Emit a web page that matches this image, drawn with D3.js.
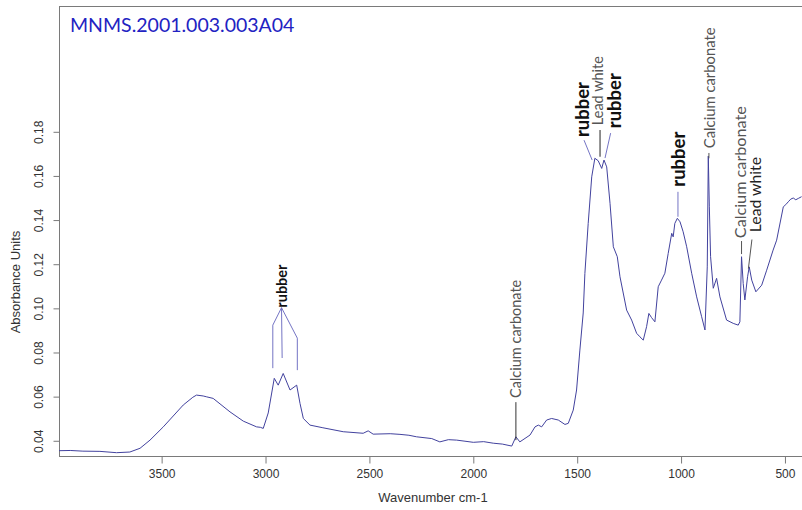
<!DOCTYPE html>
<html>
<head>
<meta charset="utf-8">
<script src="https://cdn.jsdelivr.net/npm/d3@7"></script>
<style>
  body { margin: 0; background: #fff; }
  svg { display: block; }
</style>
</head>
<body>
<div id="chart"></div>
<script>
// spectrum: wavenumber (cm-1) and absorbance
const wavenumber = [3994, 3940, 3879, 3797, 3717, 3653, 3604, 3556, 3492, 3396, 3350, 3332, 3300, 3283, 3252, 3171,
  3107, 3043, 3025, 3011, 2987, 2958, 2939, 2915, 2882, 2850, 2834, 2818, 2786, 2724, 2626, 2530, 2506, 2482, 2400,
  2353, 2310, 2273, 2200, 2161, 2120, 2080, 2040, 2000, 1950, 1904, 1860, 1815, 1795, 1776, 1727, 1703, 1687, 1671,
  1647, 1623, 1591, 1559, 1543, 1519, 1503, 1487, 1471, 1463, 1447, 1430, 1415, 1399, 1382, 1371, 1358, 1342, 1326,
  1307, 1294, 1262, 1238, 1214, 1198, 1182, 1166, 1155, 1142, 1126, 1110, 1094, 1078, 1062, 1045, 1038, 1030, 1018,
  1005, 990, 973, 949, 925, 901, 885, 874, 869, 864, 858, 845, 829, 813, 781, 749, 725, 717, 709, 701, 693, 680, 672,
  660, 640, 612, 588, 557, 540, 508, 496, 484, 472, 460, 448, 436, 420];
const absorbance = [0.0355, 0.0356, 0.0353, 0.0352, 0.0346, 0.0349, 0.0366, 0.0403, 0.0463, 0.0562, 0.0597, 0.0607,
  0.0603, 0.0599, 0.0592, 0.0531, 0.0489, 0.0463, 0.0461, 0.0456, 0.0526, 0.0683, 0.0652, 0.0705, 0.0630, 0.0652,
  0.0569, 0.0501, 0.0471, 0.0459, 0.0441, 0.0434, 0.0445, 0.0430, 0.0432, 0.0429, 0.0425, 0.0418, 0.0410, 0.0395,
  0.0405, 0.0403, 0.0398, 0.0393, 0.0396, 0.0389, 0.0385, 0.0376, 0.0418, 0.0395, 0.0426, 0.0463, 0.0471, 0.0463,
  0.0494, 0.0501, 0.0494, 0.0474, 0.0479, 0.0539, 0.0630, 0.0811, 0.0979, 0.1158, 0.1385, 0.1596, 0.1680, 0.1669,
  0.1634, 0.1672, 0.1641, 0.1476, 0.1279, 0.1234, 0.1143, 0.0992, 0.0947, 0.0887, 0.0871, 0.0856, 0.0917, 0.0977,
  0.0958, 0.0939, 0.1098, 0.1128, 0.1159, 0.1249, 0.1340, 0.1324, 0.1385, 0.1408, 0.1392, 0.1347, 0.1279, 0.1159,
  0.1052, 0.0962, 0.0902, 0.1188, 0.1690, 0.1460, 0.1234, 0.1091, 0.1136, 0.1052, 0.0947, 0.0932, 0.0924, 0.0939,
  0.1234, 0.1113, 0.1038, 0.1143, 0.1188, 0.1128, 0.1075, 0.1105, 0.1173, 0.1264, 0.1309, 0.1460, 0.1470, 0.1483,
  0.1495, 0.1500, 0.1492, 0.1498, 0.1506];

const xTicks = [3500, 3000, 2500, 2000, 1500, 1000, 500];
const yTicks = [0.04, 0.06, 0.08, 0.10, 0.12, 0.14, 0.16, 0.18];
const title = "MNMS.2001.003.003A04";

// band labels: text, kind, wavenumber of text, absorbance at text foot, leader line (from, to)
const bandText = ["rubber", "rubber", "Lead white", "rubber", "rubber", "Calcium carbonate",
  "Calcium carbonate", "Lead white", "Calcium carbonate"];
const bandKind = ["bold", "bold", "grey", "bold", "bold", "grey", "grey", "plain", "grey"];
const bandWave = [2923, 1474, 1399, 1318, 1014, 861, 713, 640, 1795];
const bandFoot = [0.1003, 0.1776, 0.1830, 0.1816, 0.1551, 0.1726, 0.1318, 0.1345, 0.0594];
const bandLine = [
  [],
  [[1467, 0.1762], [1428, 0.1672]],
  [[1390, 0.1808], [1390, 0.1687]],
  [[1339, 0.1794], [1366, 0.1681]],
  [[1015, 0.1528], [1015, 0.1415]],
  [[866, 0.1704], [866, 0.1680]],
  [[709, 0.1305], [709, 0.1246]],
  [[659, 0.1312], [676, 0.1180]],
  [[1795, 0.0575], [1795, 0.0403]]
];
// the three CH stretch leaders of the first rubber label
const fanLines = [
  [[2923, 0.1003], [2965, 0.0924], [2965, 0.0729]],
  [[2923, 0.1003], [2920, 0.0775]],
  [[2923, 0.1003], [2847, 0.0865], [2847, 0.0720]]
];

// label styling
const bandSize = [14.5, 18.5, 14.5, 18.5, 18.5, 14.8, 16.2, 15.8, 14.5];
const leadColour = ["#7474c4", "#7474c4", "#222", "#7474c4", "#7474c4", "#555", "#555", "#555", "#333"];

const W = 802, H = 510;
const padL = 59, padR = 802, padT = 6, padB = 456;

const svg = d3.select("#chart").append("svg")
    .attr("width", W)
    .attr("height", H);

const x = d3.scaleLinear().domain([3994, 418]).range([padL, padR]);
const y = d3.scaleLinear().domain([0.0331, 0.237]).range([padB, padT]);

// frame
svg.append("rect")
    .attr("x", padL + 0.5).attr("y", padT + 0.5)
    .attr("width", 800).attr("height", padB - padT)
    .attr("fill", "none").attr("stroke", "#7a7a7a");

// x axis
const gx = svg.append("g")
    .attr("transform", `translate(0,${padB + 0.5})`)
    .call(d3.axisBottom(x).tickValues(xTicks).tickSize(7).tickPadding(6).tickFormat(d3.format("d")));
gx.select(".domain").remove();
gx.selectAll("line").attr("stroke", "#7a7a7a");
gx.selectAll("text").attr("font-family", "Liberation Sans, Arial, sans-serif")
    .attr("font-size", 12).attr("fill", "#333");

// y axis, vertical labels
const gy = svg.append("g")
    .attr("transform", `translate(${padL + 0.5},0)`)
    .call(d3.axisLeft(y).tickValues(yTicks).tickSize(6).tickFormat(d3.format(".2f")));
gy.select(".domain").remove();
gy.selectAll("line").attr("stroke", "#7a7a7a");
gy.selectAll("text")
    .attr("x", null).attr("dy", null)
    .attr("text-anchor", "middle")
    .attr("transform", "translate(-17,0) rotate(-90)")
    .attr("font-family", "Liberation Sans, Arial, sans-serif")
    .attr("font-size", 12).attr("fill", "#333");

// axis titles
svg.append("text")
    .attr("x", 433).attr("y", 502)
    .attr("text-anchor", "middle")
    .attr("font-family", "Liberation Sans, Arial, sans-serif")
    .attr("font-size", 13).attr("fill", "#333")
    .text("Wavenumber cm-1");

svg.append("text")
    .attr("transform", "translate(20,282) rotate(-90)")
    .attr("text-anchor", "middle")
    .attr("font-family", "Liberation Sans, Arial, sans-serif")
    .attr("font-size", 13).attr("fill", "#333")
    .text("Absorbance Units");

// sample title
svg.append("text")
    .attr("x", 70).attr("y", 31.5)
    .attr("font-family", "Lato, sans-serif")
    .attr("font-size", 19.5).attr("fill", "#2222c2")
    .text(title);

// spectrum
const spec = wavenumber.map((w, i) => ({w: w, a: absorbance[i]}));
svg.append("path")
    .datum(spec)
    .attr("fill", "none")
    .attr("stroke", "#42429e")
    .attr("stroke-width", 1)
    .attr("d", d3.line().x(d => x(d.w)).y(d => y(d.a)));

// leaders
const lineGen = d3.line().x(d => x(d[0])).y(d => y(d[1]));
svg.selectAll(".fan")
    .data(fanLines)
    .enter().append("path")
    .attr("fill", "none").attr("stroke", "#7474c4").attr("stroke-width", 1)
    .attr("d", lineGen);

svg.selectAll(".leader")
    .data(bandLine.filter(l => l.length))
    .enter().append("path")
    .attr("fill", "none")
    .attr("stroke", (d, i) => leadColour[i + 1])
    .attr("stroke-width", 1)
    .attr("d", lineGen);

// band labels
svg.selectAll(".band")
    .data(bandText)
    .enter().append("text")
    .attr("transform", (d, i) => `translate(${x(bandWave[i])},${y(bandFoot[i])}) rotate(-90)`)
    .attr("dy", "0.35em")
    .attr("font-family", "Lato, sans-serif")
    .attr("font-size", (d, i) => bandSize[i])
    .attr("font-weight", (d, i) => bandKind[i] === "bold" ? "bold" : "normal")
    .attr("fill", (d, i) => bandKind[i] === "bold" ? "#111" : bandKind[i] === "grey" ? "#555" : "#222")
    .text(d => d);
</script>
</body>
</html>
